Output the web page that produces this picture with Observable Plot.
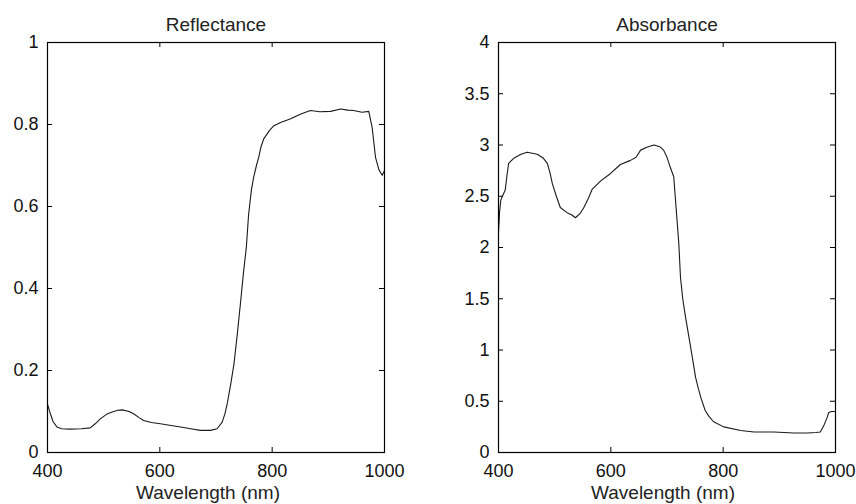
<!DOCTYPE html>
<html><head><meta charset="utf-8">
<script src="https://cdn.jsdelivr.net/npm/d3@7"></script>
<script src="https://cdn.jsdelivr.net/npm/@observablehq/plot@0.6"></script>
<style>
body{margin:0;background:#fff;}
#wrap{position:relative;width:856px;height:504px;overflow:hidden;}
#wrap svg{position:absolute;top:0;}
</style></head><body><div id="wrap"></div>
<script>
// ---- data ----
const wavelengthR = [400,405,410,417,425,440,460,476,485,494,505,515,525,533,545,554,563,571,585,601,620,637,655,672,690,702,711,716,720,726,732,738,744,749,754,758,763,767,772,776,780,785,795,803,815,833,850,868,885,904,922,935,945,960,972,978,984,990,996,1000];
const reflectance = [0.118,0.095,0.075,0.062,0.058,0.057,0.058,0.060,0.070,0.082,0.093,0.099,0.103,0.104,0.100,0.094,0.085,0.078,0.073,0.070,0.066,0.062,0.058,0.054,0.054,0.058,0.074,0.095,0.119,0.165,0.216,0.290,0.370,0.440,0.500,0.580,0.640,0.671,0.700,0.720,0.745,0.765,0.785,0.797,0.805,0.814,0.825,0.834,0.831,0.832,0.838,0.835,0.834,0.830,0.832,0.793,0.720,0.690,0.676,0.688];

const wavelengthA = [400,402,404,407,412,415,418,427,440,451,469,480,487,492,496,503,510,522,530,537,545,552,560,567,582,599,617,635,645,653,665,677,688,694,700,706,712,717,721,724,728,733,742,751,756,760,768,775,783,801,831,855,890,926,950,965,973,979,985,988,993,1000];
const absorbance = [2.15,2.35,2.46,2.50,2.56,2.70,2.82,2.87,2.91,2.93,2.91,2.87,2.82,2.72,2.62,2.50,2.39,2.34,2.32,2.29,2.33,2.39,2.48,2.57,2.65,2.72,2.81,2.85,2.88,2.95,2.98,3.00,2.98,2.95,2.88,2.78,2.69,2.33,2.04,1.71,1.50,1.32,1.03,0.73,0.62,0.54,0.41,0.35,0.30,0.25,0.215,0.20,0.20,0.19,0.19,0.195,0.20,0.26,0.34,0.39,0.40,0.40];

const xTicks = [400,600,800,1000];
const yTicksR = [0,0.2,0.4,0.6,0.8,1];
const yTicksA = [0,0.5,1,1.5,2,2.5,3,3.5,4];
const titles = ["Reflectance","Absorbance"];
const xLabel = "Wavelength (nm)";

// ---- layout ----
const H = 504, MT = 42, MB = 52;
const innerH = H - MT - MB;
const TICK = 5;
const font = "'Liberation Sans', Arial, sans-serif";

function panel({x, y, yDomain, yTicks, title, width, ml, mr, left, labelDx}) {
  const innerW = width - ml - mr;
  const data = x.map((w, i) => ({w, v: y[i]}));
  const svg = Plot.plot({
    width, height: H,
    marginLeft: ml, marginRight: mr, marginTop: MT, marginBottom: MB,
    x: {domain: [400, 1000]},
    y: {domain: yDomain},
    style: {fontFamily: font, fontSize: "18px", color: "#111", background: "transparent", overflow: "visible"},
    marks: [
      Plot.line(data, {x: "w", y: "v", stroke: "#1a1a1a", strokeWidth: 1.1}),
      // inward ticks on all four sides
      Plot.tickX(xTicks, {x: d => d, insetTop: innerH - TICK, stroke: "#000"}),
      Plot.tickX(xTicks, {x: d => d, insetBottom: innerH - TICK, stroke: "#000"}),
      Plot.tickY(yTicks, {y: d => d, insetRight: innerW - TICK, stroke: "#000"}),
      Plot.tickY(yTicks, {y: d => d, insetLeft: innerW - TICK, stroke: "#000"}),
      Plot.frame({stroke: "#000", strokeWidth: 1.2}),
      Plot.axisX({ticks: xTicks, tickSize: 0, tickPadding: 12, label: null, tickFormat: d => String(d)}),
      Plot.axisY({ticks: yTicks, tickSize: 0, tickPadding: 9, label: null, tickFormat: d => String(d)}),
      Plot.text([title], {frameAnchor: "top", dy: -12, lineAnchor: "bottom", fill: "#222", fontSize: 19}),
      Plot.text([xLabel], {frameAnchor: "bottom", dy: 46, dx: labelDx, lineAnchor: "bottom", fill: "#222", fontSize: 19})
    ]
  });
  svg.style.left = left + "px";
  return svg;
}

const wrap = document.getElementById("wrap");
wrap.appendChild(panel({x: wavelengthR, y: reflectance, yDomain: [0, 1], yTicks: yTicksR, title: titles[0], width: 420, ml: 47, mr: 36, left: 0, labelDx: -8}));
wrap.appendChild(panel({x: wavelengthA, y: absorbance, yDomain: [0, 4], yTicks: yTicksA, title: titles[1], width: 436, ml: 78, mr: 21, left: 420, labelDx: -4}));
</script></body></html>
